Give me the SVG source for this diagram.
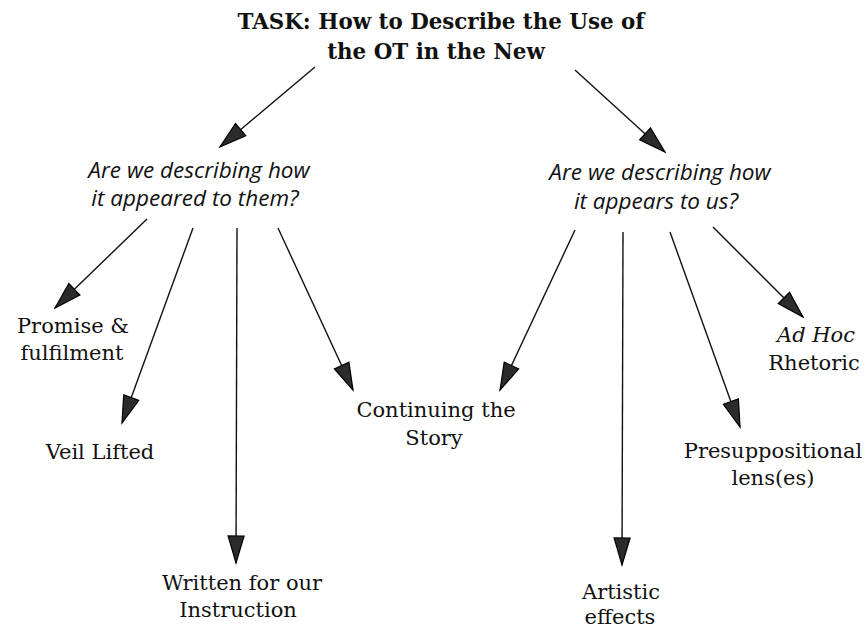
<svg xmlns="http://www.w3.org/2000/svg" width="868" height="630" viewBox="0 0 868 630">
  <style>
    .title { font-family: "DejaVu Serif", "Liberation Serif", serif; font-weight: bold; font-size: 21.4px; fill: #111; text-anchor: middle; }
    .q { font-family: "Open Sans", "Noto Sans", sans-serif; font-style: italic; font-size: 22.5px; fill: #111; text-anchor: middle; }
    .lbl { font-family: "DejaVu Serif", "Liberation Serif", serif; font-size: 21px; fill: #111; text-anchor: middle; }
    .it { font-style: italic; }
    .conn line { stroke: #111; stroke-width: 1.4; fill: none; marker-end: url(#ah); }
  </style>
  <defs>
    <marker id="ah" markerUnits="userSpaceOnUse" markerWidth="30" markerHeight="20" refX="28" refY="9" orient="auto">
      <path d="M1,1 L28,9 L1,17 Z" fill="#2b2b2b" stroke="#000" stroke-width="1.2" stroke-linejoin="miter"/>
    </marker>
  </defs>
  <rect width="868" height="630" fill="#fff"/>

  <g id="task">
    <text class="title" x="441" y="29">TASK: How to Describe the Use of</text>
    <text class="title" x="436" y="59">the OT in the New</text>
  </g>

  <g id="q-them">
    <text class="q" x="199" y="178">Are we describing how</text>
    <text class="q" x="195" y="206">it appeared to them?</text>
  </g>

  <g id="q-us">
    <text class="q" x="660" y="180">Are we describing how</text>
    <text class="q" x="656" y="209">it appears to us?</text>
  </g>

  <g id="promise">
    <text class="lbl" x="73" y="333">Promise &amp;</text>
    <text class="lbl" x="72" y="360">fulfilment</text>
  </g>

  <g id="veil">
    <text class="lbl" x="100" y="459">Veil Lifted</text>
  </g>

  <g id="written">
    <text class="lbl" x="242" y="590">Written for our</text>
    <text class="lbl" x="238" y="617">Instruction</text>
  </g>

  <g id="continuing">
    <text class="lbl" x="436" y="417">Continuing the</text>
    <text class="lbl" x="434" y="445">Story</text>
  </g>

  <g id="artistic">
    <text class="lbl" x="621" y="599">Artistic</text>
    <text class="lbl" x="620" y="624">effects</text>
  </g>

  <g id="presuppositional">
    <text class="lbl" x="773" y="458">Presuppositional</text>
    <text class="lbl" x="773" y="485">lens(es)</text>
  </g>

  <g id="adhoc">
    <text class="lbl it" x="816" y="342">Ad Hoc</text>
    <text class="lbl" x="814" y="370">Rhetoric</text>
  </g>

  <g id="connectors" class="conn">
    <line x1="315" y1="67" x2="220" y2="147"/>
    <line x1="575" y1="70" x2="665" y2="152"/>
    <line x1="147" y1="219" x2="55" y2="308"/>
    <line x1="193" y1="228" x2="122" y2="423"/>
    <line x1="237" y1="228" x2="236" y2="563"/>
    <line x1="278" y1="228" x2="353" y2="390"/>
    <line x1="575" y1="230" x2="500" y2="390"/>
    <line x1="623" y1="232" x2="622" y2="565"/>
    <line x1="670" y1="232" x2="740" y2="427"/>
    <line x1="713" y1="227" x2="803" y2="317"/>
  </g>
</svg>
